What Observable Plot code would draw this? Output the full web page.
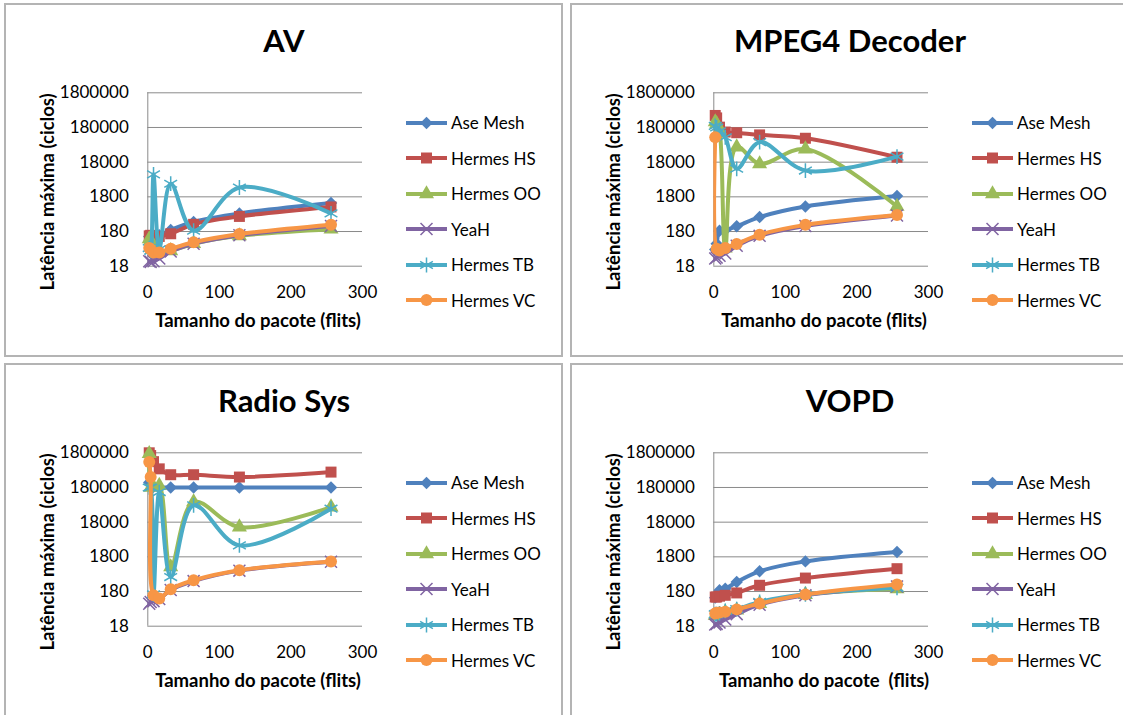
<!DOCTYPE html>
<html>
<head>
<meta charset="utf-8">
<script src="https://cdn.jsdelivr.net/npm/d3@7"></script>
<script src="https://cdn.jsdelivr.net/npm/@observablehq/plot@0.6"></script>
<style>
  html, body { margin: 0; padding: 0; background: #fff; }
  body { font-family: Lato, "Open Sans", sans-serif; color: #000; }
  #root { position: relative; width: 1123px; height: 715px; overflow: hidden; }
  .panel { position: absolute; width: 559px; height: 354px; }
  .frame { position: absolute; left: 0; top: 0; width: 559px; height: 354px; box-sizing: border-box; border: 2px solid #b4b4b4; }
  .title { position: absolute; left: 130px; width: 300px; top: 21.8px; height: 31px; line-height: 31px; font-size: 31px; font-weight: bold; text-align: center; white-space: nowrap; }
  .xtitle { position: absolute; left: 104px; width: 300px; top: 308px; height: 18.5px; line-height: 18.5px; font-size: 18.5px; font-weight: bold; text-align: center; white-space: pre; }
  .ytitle { position: absolute; left: -87.3px; width: 260px; top: 179px; height: 20px; line-height: 20px; font-size: 18.5px; font-weight: bold; text-align: center; white-space: nowrap; transform: rotate(-90deg); }
  .plotbox { position: absolute; left: 0; top: 60px; }
  .legend-row { position: absolute; left: 402px; height: 20px; display: flex; align-items: center; font-size: 17px; white-space: nowrap; }
  .legend-row svg { display: block; }
  .legend-row span { margin-left: 4px; }
</style>
</head>
<body>
<div id="root"></div>
<script>
// ---- data ----
const packetSizes = [2, 4, 8, 16, 32, 64, 128, 256];
const seriesNames = ["Ase Mesh", "Hermes HS", "Hermes OO", "YeaH", "Hermes TB", "Hermes VC"];
const yTickValues = [18, 180, 1800, 18000, 180000, 1800000];
const xTickValues = [0, 100, 200, 300];
const chartTitles = ["AV", "MPEG4 Decoder", "Radio Sys", "VOPD"];
const xAxisTitles = ["Tamanho do pacote (flits)", "Tamanho do pacote (flits)", "Tamanho do pacote (flits)", "Tamanho do pacote  (flits)"];
const yAxisTitle = "Latência máxima (ciclos)";

// AV
const avAseMesh = [130, 135, 125, 140, 200, 340, 600, 1200];
const avHermesHS = [135, 140, 130, 130, 155, 290, 490, 920];
const avHermesOO = [110, 100, 60, 45, 50, 80, 135, 210];
const avYeaH = [25, 24, 25, 30, 48, 80, 140, 260];
const avHermesTB = [60, 50, 8000, 55, 4300, 190, 3350, 600];
const avHermesVC = [60, 55, 45, 45, 57, 88, 152, 284];

// MPEG4 Decoder
const mpegAseMesh = [55, 80, 190, 200, 255, 470, 950, 1900];
const mpegHermesHS = [400000, 340000, 184000, 133000, 127000, 110000, 88000, 25000];
const mpegHermesOO = [260000, 230000, 150000, 60, 49000, 16000, 43000, 950];
const mpegYeaH = [30, 32, 36, 42, 70, 135, 260, 520];
const mpegHermesTB = [200000, 180000, 140000, 94000, 11600, 68000, 10300, 26000];
const mpegHermesVC = [94000, 57, 51, 60, 79, 146, 280, 540];

// Radio Sys
const radioAseMesh = [250000, 220000, 190000, 180000, 180000, 180000, 180000, 180000];
const radioHermesHS = [1800000, 1500000, 1000000, 620000, 420000, 420000, 360000, 500000];
const radioHermesOO = [1700000, 180000, 190000, 205000, 920, 69000, 13000, 49000];
const radioYeaH = [80, 90, 95, 110, 200, 360, 720, 1300];
const radioHermesTB = [180000, 180000, 150, 133000, 470, 55000, 3850, 44000];
const radioHermesVC = [970000, 360000, 140, 113, 210, 380, 740, 1330];

// VOPD
const vopdAseMesh = [120, 140, 197, 216, 340, 690, 1330, 2490];
const vopdHermesHS = [125, 125, 132, 140, 164, 272, 440, 820];
const vopdHermesOO = [37, 37, 38, 46, 52, 81, 147, 216];
const vopdYeaH = [20, 21, 23, 28, 40, 75, 140, 250];
const vopdHermesTB = [40, 40, 42, 50, 56, 90, 150, 230];
const vopdHermesVC = [42, 44, 45, 47, 55, 81, 147, 285];

// ---- styles ----
const seriesColors = ["#4F81BD", "#C0504D", "#9BBB59", "#8064A2", "#4BACC6", "#F79646"];
const seriesSymbols = ["diamond2", "square", "triangle", "times", "asterisk", "circle"];
const symbolR = { diamond2: 5.6, square: 6.2, triangle: 5.6, times: 5.5, asterisk: 7, circle: 6 };
const strokeSymbols = new Set(["times", "asterisk"]);
const d3Symbols = { diamond2: d3.symbolDiamond2, square: d3.symbolSquare, triangle: d3.symbolTriangle, times: d3.symbolTimes, asterisk: d3.symbolAsterisk, circle: d3.symbolCircle };

const panelData = [
  [avAseMesh, avHermesHS, avHermesOO, avYeaH, avHermesTB, avHermesVC],
  [mpegAseMesh, mpegHermesHS, mpegHermesOO, mpegYeaH, mpegHermesTB, mpegHermesVC],
  [radioAseMesh, radioHermesHS, radioHermesOO, radioYeaH, radioHermesTB, radioHermesVC],
  [vopdAseMesh, vopdHermesHS, vopdHermesOO, vopdYeaH, vopdHermesTB, vopdHermesVC]
];
const panelOrigins = [[4, 3], [570, 3], [4, 363], [570, 363]];

const root = document.getElementById("root");

panelData.forEach((values, pi) => {
  const panel = document.createElement("div");
  panel.className = "panel";
  panel.style.left = panelOrigins[pi][0] + "px";
  panel.style.top = panelOrigins[pi][1] + "px";
  root.appendChild(panel);

  const frame = document.createElement("div");
  frame.className = "frame";
  panel.appendChild(frame);

  const title = document.createElement("div");
  title.className = "title";
  title.textContent = chartTitles[pi];
  panel.appendChild(title);

  const marks = [
    Plot.gridY(yTickValues, { stroke: "#8a8a8a", strokeOpacity: 1, strokeWidth: 1 }),
    Plot.ruleX([0], { stroke: "#8a8a8a", strokeWidth: 1 })
  ];
  values.forEach((vals, si) => {
    const rows = packetSizes.map((x, i) => ({ x, y: vals[i] }));
    const sym = seriesSymbols[si];
    const color = seriesColors[si];
    marks.push(Plot.line(rows, { x: "x", y: "y", stroke: color, strokeWidth: 4, curve: "catmull-rom", clip: true }));
    if (strokeSymbols.has(sym)) {
      marks.push(Plot.dot(rows, { x: "x", y: "y", symbol: sym, r: symbolR[sym], stroke: color, strokeWidth: 1.5, fill: "none" }));
    } else {
      marks.push(Plot.dot(rows, { x: "x", y: "y", symbol: sym, r: symbolR[sym], fill: color, stroke: "none" }));
    }
  });

  const chart = Plot.plot({
    width: 390,
    height: 262,
    marginLeft: 143.3,
    marginRight: 32,
    marginTop: 29.3,
    marginBottom: 59.3,
    style: { fontFamily: "Lato, sans-serif", fontSize: "17px", color: "#000", background: "transparent", overflow: "visible" },
    x: { domain: [0, 300], ticks: xTickValues, tickSize: 0, tickPadding: 19.5, label: null },
    y: { type: "log", domain: [18, 1800000], ticks: yTickValues, tickFormat: d3.format("d"), tickSize: 0, tickPadding: 19, label: null },
    marks
  });
  const box = document.createElement("div");
  box.className = "plotbox";
  box.appendChild(chart);
  panel.appendChild(box);

  const xt = document.createElement("div");
  xt.className = "xtitle";
  xt.textContent = xAxisTitles[pi];
  panel.appendChild(xt);

  const yt = document.createElement("div");
  yt.className = "ytitle";
  yt.textContent = yAxisTitle;
  panel.appendChild(yt);

  seriesNames.forEach((name, si) => {
    const row = document.createElement("div");
    row.className = "legend-row";
    row.style.top = (119.7 + si * 35.5 - 10) + "px";
    const svg = d3.create("svg").attr("width", 41).attr("height", 20);
    svg.append("line").attr("x1", 0).attr("x2", 41).attr("y1", 10).attr("y2", 10)
      .attr("stroke", seriesColors[si]).attr("stroke-width", 4);
    const sym = seriesSymbols[si];
    const size = Math.PI * symbolR[sym] * symbolR[sym];
    const path = svg.append("path").attr("transform", "translate(20.5,10)")
      .attr("d", d3.symbol(d3Symbols[sym], size)());
    if (strokeSymbols.has(sym)) path.attr("fill", "none").attr("stroke", seriesColors[si]).attr("stroke-width", 1.5);
    else path.attr("fill", seriesColors[si]);
    row.appendChild(svg.node());
    const label = document.createElement("span");
    label.textContent = name;
    row.appendChild(label);
    panel.appendChild(row);
  });
});
</script>
</body>
</html>
